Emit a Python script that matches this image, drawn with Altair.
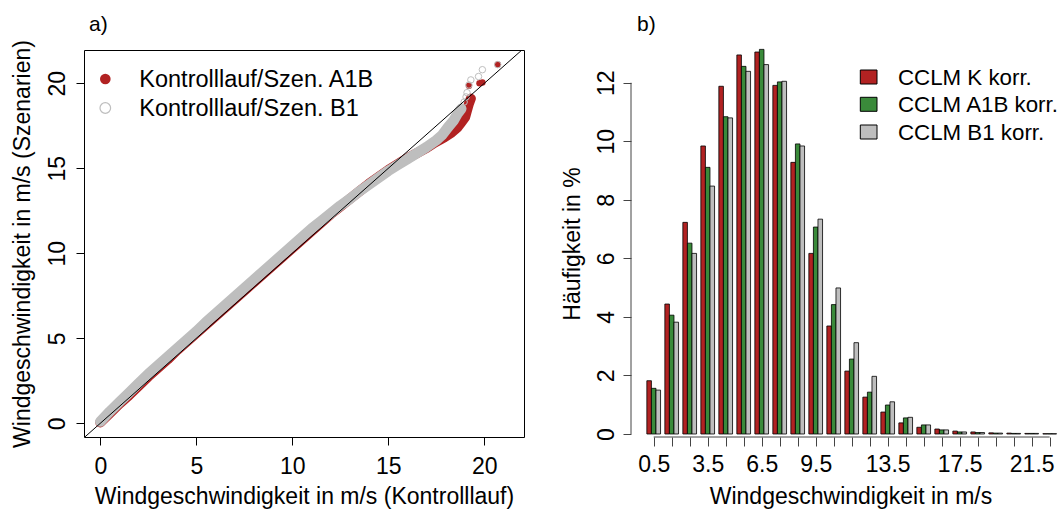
import altair as alt
import pandas as pd

FONT = "Liberation Sans"
RED = "#B22222"
GREEN = "#3A8A3A"
GREY = "#BEBEBE"
AXIS_GREY = "#444444"
FS = 23

# ---------------- a) quantile-quantile pairs (m/s) ----------------
# dense part of the A1B curve
a1b_ctrl = [0.0, 0.5, 1.0, 1.5, 2.0, 2.5, 3.0, 3.5, 4.0, 4.5, 5.0, 5.5, 6.0, 6.5,
            7.0, 7.5, 8.0, 8.5, 9.0, 9.5, 10.0, 10.5, 11.0, 11.5, 12.0, 12.5,
            13.0, 13.5, 14.0, 14.5, 15.0, 15.5, 16.0, 16.5, 17.0, 17.4, 17.9,
            18.3, 18.6, 18.8, 19.0, 19.1, 19.2, 19.3]
a1b_scen = [0.05, 0.6, 1.15, 1.65, 2.2, 2.75, 3.25, 3.75, 4.3, 4.8, 5.3, 5.8, 6.3, 6.8,
            7.3, 7.8, 8.3, 8.8, 9.3, 9.8, 10.3, 10.8, 11.3, 11.8, 12.3, 12.75,
            13.2, 13.65, 14.1, 14.5, 14.9, 15.25, 15.6, 15.9, 16.2, 16.5, 16.8,
            17.1, 17.4, 17.7, 18.0, 18.4, 18.8, 19.1]
# isolated upper-tail points of the A1B curve
a1b_tail_ctrl = [19.2, 19.75, 19.9, 20.7]
a1b_tail_scen = [19.85, 20.0, 20.05, 21.1]

# dense part of the B1 curve
b1_ctrl = [0.0, 0.5, 1.0, 1.5, 2.0, 2.5, 3.0, 3.5, 4.0, 4.5, 5.0, 5.5, 6.0, 6.5,
           7.0, 7.5, 8.0, 8.5, 9.0, 9.5, 10.0, 10.5, 11.0, 11.5, 12.0, 12.5,
           13.0, 13.5, 14.0, 14.5, 15.0, 15.5, 16.0, 16.5, 17.0, 17.5, 17.8,
           18.1, 18.4, 18.6, 18.8]
b1_scen = [0.1, 0.7, 1.25, 1.8, 2.35, 2.9, 3.4, 3.9, 4.4, 4.9, 5.4, 5.95, 6.45, 6.95,
           7.45, 7.95, 8.45, 8.95, 9.45, 9.95, 10.45, 10.95, 11.45, 11.9, 12.35, 12.8,
           13.2, 13.65, 14.05, 14.45, 14.85, 15.2, 15.55, 15.9, 16.25, 16.65, 16.95,
           17.4, 17.8, 18.2, 18.5]
# isolated upper-tail points of the B1 curve
b1_tail_ctrl = [18.95, 19.05, 19.1, 19.2, 19.3, 19.7, 19.9, 20.7]
b1_tail_scen = [18.9, 19.2, 19.45, 19.9, 20.2, 20.4, 20.8, 21.1]

qq_ticks = [0, 5, 10, 15, 20]
qq_legend = ["Kontrolllauf/Szen. A1B", "Kontrolllauf/Szen. B1"]

# ---------------- b) frequency distribution (%) ----------------
bins = [0.5, 1.5, 2.5, 3.5, 4.5, 5.5, 6.5, 7.5, 8.5, 9.5, 10.5, 11.5,
        12.5, 13.5, 14.5, 15.5, 16.5, 17.5, 18.5, 19.5, 20.5, 21.5, 22.5]
k_pct = [1.82, 4.44, 7.23, 9.84, 11.88, 12.95, 13.05, 11.91, 9.28, 6.17, 3.69, 2.15,
         1.26, 0.75, 0.38, 0.23, 0.17, 0.10, 0.07, 0.04, 0.03, 0.02, 0.01]
a1b_pct = [1.56, 4.06, 6.52, 9.11, 10.84, 12.56, 13.14, 12.03, 9.91, 7.07, 4.42, 2.56,
           1.43, 0.99, 0.55, 0.31, 0.14, 0.07, 0.05, 0.03, 0.02, 0.02, 0.01]
b1_pct = [1.50, 3.82, 6.17, 8.47, 10.80, 12.39, 12.62, 12.05, 9.84, 7.34, 4.99, 3.12,
          1.97, 1.10, 0.57, 0.31, 0.14, 0.07, 0.05, 0.03, 0.02, 0.02, 0.01]
series = ["CCLM K korr.", "CCLM A1B korr.", "CCLM B1 korr."]
series_colors = [RED, GREEN, GREY]
bin_labels = [0.5, 3.5, 6.5, 9.5, 13.5, 17.5, 21.5]
pct_ticks = [0, 2, 4, 6, 8, 10, 12]

# ---------------- panel a) ----------------
W_A, H_A = 440, 387
xs_a = alt.Scale(domain=[-0.849, 22.068], nice=False, zero=False)
ys_a = alt.Scale(domain=[-0.806, 21.959], nice=False, zero=False)

ax_x_a = alt.Axis(values=qq_ticks, domain=False, grid=False, tickSize=8, tickColor="black",
                  labelFontSize=FS, labelFont=FONT, labelColor="black", labelPadding=28,
                  labelBaseline="alphabetic", labelFlush=False, labelOverlap=False,
                  title="Windgeschwindigkeit in m/s (Kontrolllauf)", titleFontSize=FS,
                  titleFont=FONT, titleFontWeight="normal", titleColor="black",
                  titleX=220, titleY=66, titleBaseline="alphabetic", titleAlign="center")
ax_y_a = alt.Axis(values=qq_ticks, domain=False, grid=False, tickSize=8, tickColor="black",
                  labelFontSize=FS, labelFont=FONT, labelColor="black", labelPadding=12,
                  labelAngle=270, labelAlign="center", labelBaseline="alphabetic",
                  labelFlush=False, labelOverlap=False,
                  title="Windgeschwindigkeit in m/s (Szenarien)", titleFontSize=FS,
                  titleFont=FONT, titleFontWeight="normal", titleColor="black",
                  titleX=-55, titleY=193.5, titleAngle=270, titleBaseline="alphabetic",
                  titleAlign="center")

a1b_df = pd.DataFrame({"ctrl": a1b_ctrl, "scen": a1b_scen})
a1b_tail_df = pd.DataFrame({"ctrl": a1b_tail_ctrl, "scen": a1b_tail_scen})
b1_df = pd.DataFrame({"ctrl": b1_ctrl, "scen": b1_scen})
b1_tail_df = pd.DataFrame({"ctrl": b1_tail_ctrl, "scen": b1_tail_scen})

QX = alt.X("ctrl:Q", scale=xs_a, axis=ax_x_a)
QY = alt.Y("scen:Q", scale=ys_a, axis=ax_y_a)

a1b_band = alt.Chart(a1b_df).mark_line(color=RED, strokeWidth=10, strokeCap="round",
                                       strokeJoin="round").encode(x=QX, y=QY, order="ctrl:Q")
a1b_pts = alt.Chart(pd.concat([a1b_df, a1b_tail_df])).mark_point(
    filled=True, color=RED, size=42, opacity=1).encode(x=QX, y=QY)
b1_band = alt.Chart(b1_df).mark_line(color=GREY, strokeWidth=10.5, strokeCap="round",
                                     strokeJoin="round").encode(x=QX, y=QY, order="ctrl:Q")
b1_pts = alt.Chart(pd.concat([b1_df, b1_tail_df])).mark_point(
    filled=False, color=GREY, size=42, strokeWidth=1, opacity=1).encode(x=QX, y=QY)

diag_df = pd.DataFrame({"ctrl": [-1.0, 23.0], "scen": [-1.0, 23.0]})
diag = alt.Chart(diag_df).mark_line(color="black", strokeWidth=1, clip=True).encode(
    x=QX, y=QY)

leg_a1b_sym = alt.Chart(pd.DataFrame({"t": [qq_legend[0]]})).mark_point(
    filled=True, color=RED, size=113, opacity=1).encode(x=alt.value(21.3), y=alt.value(29))
leg_b1_sym = alt.Chart(pd.DataFrame({"t": [qq_legend[1]]})).mark_point(
    filled=False, color=GREY, size=113, strokeWidth=1.2, opacity=1).encode(
    x=alt.value(21.3), y=alt.value(58))
leg_a1b_txt = alt.Chart(pd.DataFrame({"t": [qq_legend[0]]})).mark_text(
    align="left", baseline="alphabetic", fontSize=23.5, font=FONT, color="black").encode(
    x=alt.value(55.3), y=alt.value(36.7), text="t:N")
leg_b1_txt = alt.Chart(pd.DataFrame({"t": [qq_legend[1]]})).mark_text(
    align="left", baseline="alphabetic", fontSize=23.5, font=FONT, color="black").encode(
    x=alt.value(55.3), y=alt.value(66), text="t:N")
tag_a = alt.Chart(pd.DataFrame({"t": ["a)"]})).mark_text(
    align="left", baseline="alphabetic", fontSize=FS - 2, font=FONT, color="black").encode(
    x=alt.value(5), y=alt.value(-19), text="t:N")

panel_a = alt.layer(
    a1b_band, a1b_pts, b1_band, b1_pts, diag,
    leg_a1b_sym, leg_b1_sym, leg_a1b_txt, leg_b1_txt, tag_a
).properties(width=W_A, height=H_A,
             view=alt.ViewBackground(stroke="black", strokeWidth=1))

# ---------------- panel b) ----------------
W_B, H_B = 428, 387
xs_b = alt.Scale(domain=[-0.7611, 23.0167], nice=False, zero=False)
ys_b = alt.Scale(domain=[-0.1025, 13.119], nice=False, zero=False)
BAR_W = 0.2537

rows = []
for idx, (name, vals) in enumerate(zip(series, [k_pct, a1b_pct, b1_pct])):
    for b, v in zip(bins, vals):
        rows.append({"bin": b, "series": name, "idx": idx, "pct": v})
hist_df = pd.DataFrame(rows)

label_list = ",".join(str(v) for v in bin_labels)
ax_x_b = alt.Axis(values=bins, domain=False, grid=False, tickSize=9, tickColor=AXIS_GREY,
                  labelFontSize=FS, labelFont=FONT, labelColor="black", labelPadding=25,
                  labelBaseline="alphabetic", labelFlush=False, labelOverlap=False,
                  format=".1f",
                  labelExpr=f"indexof([{label_list}], datum.value) >= 0 ? datum.label : ''",
                  title="Windgeschwindigkeit in m/s", titleFontSize=FS, titleFont=FONT,
                  titleFontWeight="normal", titleColor="black",
                  titleX=219.5, titleY=66, titleBaseline="alphabetic", titleAlign="center")
ax_y_b = alt.Axis(values=pct_ticks, domain=False, grid=False, tickSize=8, tickColor=AXIS_GREY,
                  labelFontSize=FS, labelFont=FONT, labelColor="black", labelPadding=10,
                  labelAngle=270, labelAlign="center", labelBaseline="alphabetic",
                  labelFlush=False, labelOverlap=False,
                  title="Häufigkeit in %", titleFontSize=FS, titleFont=FONT,
                  titleFontWeight="normal", titleColor="black",
                  titleX=-51.5, titleY=193.5, titleAngle=270, titleBaseline="alphabetic",
                  titleAlign="center")

BX = lambda f: alt.X(f, scale=xs_b, axis=ax_x_b)
BY = lambda f: alt.Y(f, scale=ys_b, axis=ax_y_b)

bars = alt.Chart(hist_df).transform_calculate(
    x0=f"datum.bin - {1.5 * BAR_W} + datum.idx * {BAR_W}",
    x1=f"datum.bin - {1.5 * BAR_W} + (datum.idx + 1) * {BAR_W}",
).mark_rect(stroke="black", strokeWidth=0.8).encode(
    x=BX("x0:Q"),
    x2="x1:Q",
    y=BY("pct:Q"),
    y2=alt.datum(0),
    color=alt.Color("series:N", scale=alt.Scale(domain=series, range=series_colors),
                    legend=None),
)

span_df = pd.DataFrame({"x0": [bins[0]], "x1": [bins[-1]],
                        "pct": [pct_ticks[0]], "pct1": [pct_ticks[-1]]})
x_line = alt.Chart(span_df).mark_rule(color=AXIS_GREY, strokeWidth=1).encode(
    x=BX("x0:Q"), x2="x1:Q", y=alt.value(H_B))
y_line = alt.Chart(span_df).mark_rule(color=AXIS_GREY, strokeWidth=1).encode(
    y=BY("pct:Q"), y2="pct1:Q", x=alt.value(0))

leg_rows_y = [27, 54.3, 82]
leg_layers = []
for name, col, yc in zip(series, series_colors, leg_rows_y):
    d = pd.DataFrame({"t": [name]})
    leg_layers.append(alt.Chart(d).mark_rect(stroke="black", strokeWidth=1, color=col).encode(
        x=alt.value(229.3), x2=alt.value(246), y=alt.value(yc - 7), y2=alt.value(yc + 7)))
    leg_layers.append(alt.Chart(d).mark_text(
        align="left", baseline="alphabetic", fontSize=22.3, font=FONT, color="black").encode(
        x=alt.value(267), y=alt.value(yc + 8), text="t:N"))

tag_b = alt.Chart(pd.DataFrame({"t": ["b)"]})).mark_text(
    align="left", baseline="alphabetic", fontSize=FS - 2, font=FONT, color="black").encode(
    x=alt.value(6), y=alt.value(-19), text="t:N")

panel_b = alt.layer(bars, x_line, y_line, *leg_layers, tag_b).properties(
    width=W_B, height=H_B)

chart = alt.hconcat(panel_a, panel_b, spacing=107, bounds="flush").properties(
    padding={"left": 10, "top": 13, "right": 0, "bottom": 0},
    background="white",
).configure_view(stroke=None).resolve_scale(x="independent", y="independent")

chart.save("out.html", embed_options={"renderer": "svg", "actions": False})
